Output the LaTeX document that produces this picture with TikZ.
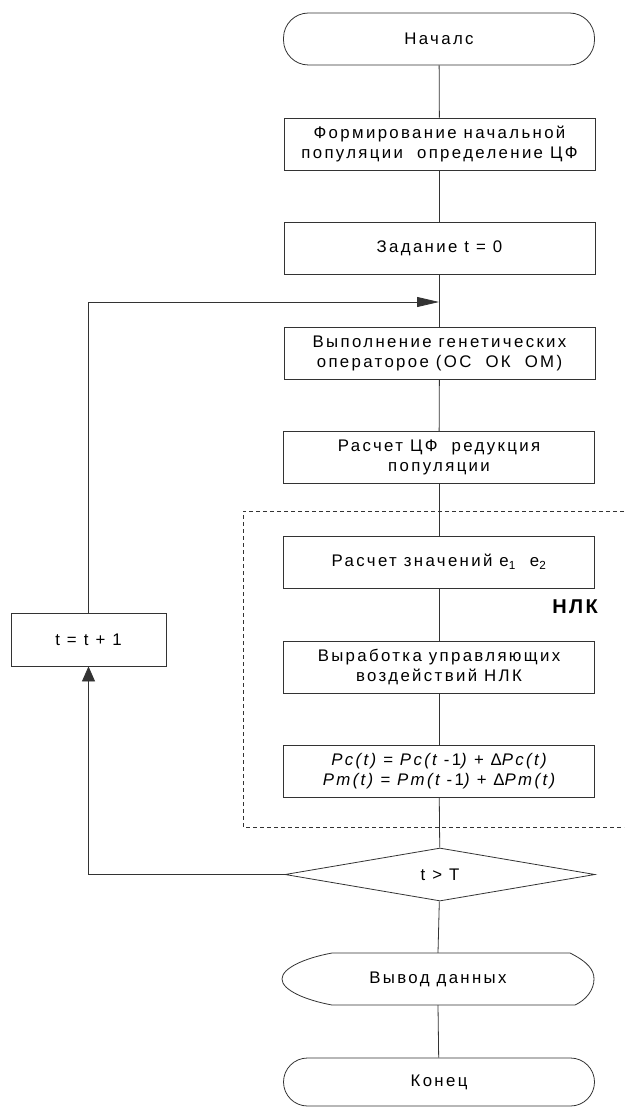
\documentclass[tikz,border=0pt]{standalone}
\usepackage{fontspec}
\setmainfont{Liberation Sans}[LetterSpace=14]
\newfontfamily\nlkfont{Liberation Sans}[LetterSpace=12]
\usetikzlibrary{arrows.meta,shapes.geometric}
\begin{document}
\begin{tikzpicture}[x=1pt,y=-1pt,
  line/.style={draw=black!80,line width=0.8pt},
  txt/.style={font=\fontsize{16.8}{20}\selectfont},
  blk/.style={line,txt,rectangle,minimum width=311pt,minimum height=52pt,inner sep=0pt,align=center},
  term/.style={blk,rounded corners=25pt},
  harr/.style={line,-{Triangle[length=22pt,width=10pt]}},
  varr/.style={line,-{Triangle[length=15pt,width=13pt]}}]
\useasboundingbox (0,0) rectangle (624,1107);
\node[term] (start) at (439,39) {Началс};
\node[blk] (b1) at (439.5,144) {Формирование начальной\\популяции\ \ определение ЦФ};
\node[blk] (b2) at (439.5,248.5) {Задание t\ =\ 0};
\coordinate (join) at (439,302);
\node[blk] (b3) at (439.5,353) {Выполнение генетических\\операторое (ОС\ \ ОК\ \ ОМ)};
\node[blk] (b4) at (439,457.5) {Расчет ЦФ\ \ редукция\\популяции};
\node[blk] (b5) at (439,562) {Расчет значений e\textsubscript{1}\ \ e\textsubscript{2}};
\node[blk] (b6) at (439,667) {Выработка управляющих\\воздействий НЛК};
\node[blk] (b7) at (439,771) {\itshape Pc(t)\ =\ Pc(t\ {\upshape -1})\ +\ {\upshape Δ}Pc(t)\\\itshape Pm(t)\ =\ Pm(t\ {\upshape -1})\ +\ {\upshape Δ}Pm(t)};
\node[font=\fontsize{20}{20}\selectfont\nlkfont\bfseries] (nlk) at (575,607) {НЛК};
\node[line,txt,diamond,minimum width=310pt,minimum height=53pt,inner sep=0pt] (dec) at (440,874.5) {t > T};
\node[blk,minimum width=155pt,minimum height=53pt] (inc) at (88.5,639.5) {t\ =\ t\ +\ 1};
\node[txt,minimum width=312pt,minimum height=52pt,inner sep=0pt] (out) at (438,979) {Вывод данных};
\draw[line] (332,953) -- (570,953) .. controls (588,962) and (594,970) .. (594,979)
  .. controls (594,990) and (586,1000) .. (575,1005) -- (332,1005)
  .. controls (305,1000) and (282,990) .. (282,979) .. controls (282,968) and (305,958) .. (332,953);
\node[term,minimum height=48pt,rounded corners=24pt] (end) at (439,1082) {Конец};
% dashed group
\draw[line,dash pattern=on 4pt off 3pt] (624,511) -- (243,511) -- (243,827) -- (624,827);
% connectors
\draw[line] (start) -- (b1);
\draw[line] (b1) -- (b2);
\draw[line] (b2) -- (b3);
\draw[line] (b3) -- (b4);
\draw[line] (b4) -- (b5);
\draw[line] (b5) -- (b6);
\draw[line] (b6) -- (b7);
\draw[line] (b7) -- (dec);
\draw[line] (dec) -- (out.north);
\draw[line] (out.south) -- (end);
\draw[varr] (dec.west) -| (inc.south);
\draw[harr] (inc.north) |- (join);
\end{tikzpicture}
\end{document}
